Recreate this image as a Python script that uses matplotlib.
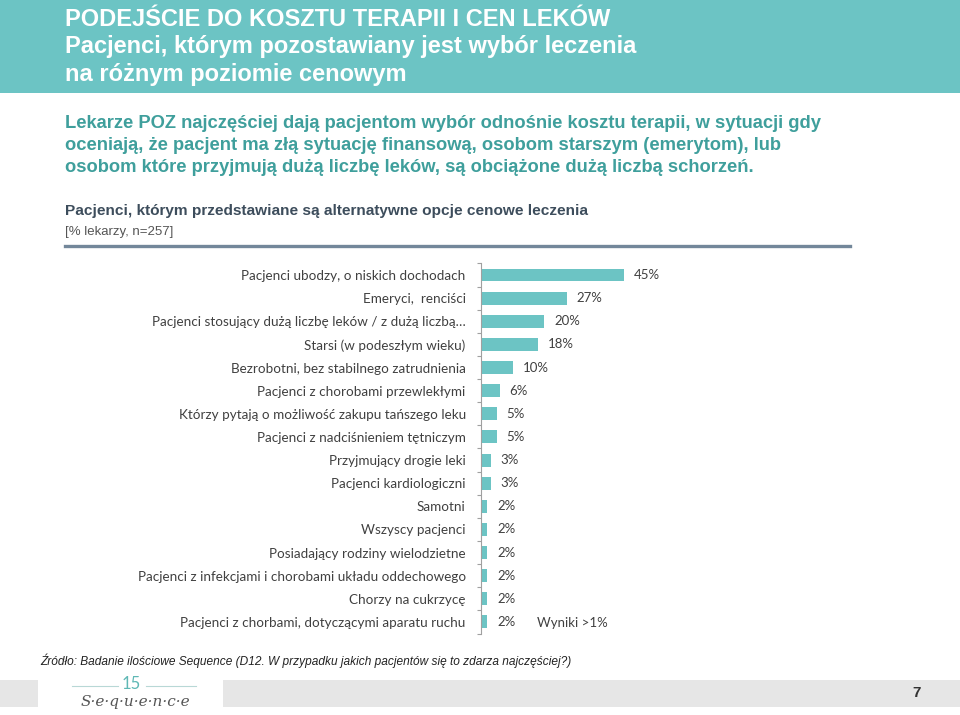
import matplotlib
matplotlib.use("Agg")
import matplotlib.pyplot as plt
from matplotlib.patches import Rectangle
from matplotlib.lines import Line2D
import numpy as np

categories = [
    "Pacjenci ubodzy, o niskich dochodach",
    "Emeryci,  renciści",
    "Pacjenci stosujący dużą liczbę leków / z dużą liczbą…",
    "Starsi (w podeszłym wieku)",
    "Bezrobotni, bez stabilnego zatrudnienia",
    "Pacjenci z chorobami przewlekłymi",
    "Którzy pytają o możliwość zakupu tańszego leku",
    "Pacjenci z nadciśnieniem tętniczym",
    "Przyjmujący drogie leki",
    "Pacjenci kardiologiczni",
    "Samotni",
    "Wszyscy pacjenci",
    "Posiadający rodziny wielodzietne",
    "Pacjenci z infekcjami i chorobami układu oddechowego",
    "Chorzy na cukrzycę",
    "Pacjenci z chorbami, dotyczącymi aparatu ruchu",
]
values = [45, 27, 20, 18, 10, 6, 5, 5, 3, 3, 2, 2, 2, 2, 2, 2]
value_labels = ["45%", "27%", "20%", "18%", "10%", "6%", "5%", "5%",
                "3%", "3%", "2%", "2%", "2%", "2%", "2%", "2%"]

title_lines = ["PODEJŚCIE DO KOSZTU TERAPII I CEN LEKÓW",
               "Pacjenci, którym pozostawiany jest wybór leczenia",
               "na różnym poziomie cenowym"]
lead_lines = ["Lekarze POZ najczęściej dają pacjentom wybór odnośnie kosztu terapii, w sytuacji gdy",
              "oceniają, że pacjent ma złą sytuację finansową, osobom starszym (emerytom), lub",
              "osobom które przyjmują dużą liczbę leków, są obciążone dużą liczbą schorzeń."]
chart_title = "Pacjenci, którym przedstawiane są alternatywne opcje cenowe leczenia"
chart_base = "[% lekarzy, n=257]"
note = "Wyniki >1%"
source = "Źródło: Badanie ilościowe Sequence (D12. W przypadku jakich pacjentów się to zdarza najczęściej?)"
page_no = "7"

TEAL = "#6cc4c4"
W, H = 960, 715

fig = plt.figure(figsize=(9.6, 7.15), dpi=100)
fig.patch.set_facecolor("white")


def fx(px):
    return px / W


def fy(py):
    return 1 - py / H


# header band
fig.patches.append(Rectangle((0, fy(93)), 1, 93 / H, transform=fig.transFigure,
                             facecolor=TEAL, edgecolor="none", zorder=0))
sans = "Liberation Sans"
for i, line in enumerate(title_lines):
    fig.text(fx(65), fy(20 + i * 27), line, color="white", fontsize=17,
             fontweight="bold", family=sans, va="center", ha="left")

for i, line in enumerate(lead_lines):
    fig.text(fx(65), fy(124 + i * 22), line, color="#3f9f9c", fontsize=13.2,
             fontweight="bold", family=sans, va="center", ha="left")

fig.text(fx(65), fy(211), chart_title, color="#3d4d5c", fontsize=11.1,
         fontweight="bold", family=sans, va="center", ha="left")
fig.text(fx(65), fy(232), chart_base, color="#555555", fontsize=9.5,
         family=sans, va="center", ha="left")
fig.lines.append(Line2D([fx(65), fx(850)], [fy(246), fy(246)], transform=fig.transFigure,
                        color="#73879a", linewidth=2.4))

# bar chart
n = len(categories)
slot = 23.13
top_px = 275 - slot / 2
ax = fig.add_axes([fx(481), fy(top_px + n * slot), fx(317), n * slot / H])
y = np.arange(n)
ax.barh(y, values, height=0.56, color=TEAL, zorder=2)
ax.set_xlim(0, 100)
ax.set_ylim(n - 0.5, -0.5)
ax.set_yticks(y)
ax.set_yticklabels(categories, family="Lato", fontsize=9.75, color="#404040")
ax.set_yticks(np.arange(n + 1) - 0.5, minor=True)
ax.tick_params(axis="y", which="major", length=0, pad=11)
ax.tick_params(axis="y", which="minor", length=3, color="#a0a0a0", width=0.8)
ax.set_xticks([])
for s in ["top", "right", "bottom"]:
    ax.spines[s].set_visible(False)
ax.spines["left"].set_color("#a0a0a0")
ax.spines["left"].set_linewidth(0.8)

for yi, v, lab in zip(y, values, value_labels):
    ax.annotate(lab, (v, yi), xytext=(7, 0), textcoords="offset points",
                va="center", ha="left", family="Lato", fontsize=9.5,
                color="#404040")
ax.annotate(note, (values[-1], n - 1), xytext=(36, -1), textcoords="offset points",
            va="center", ha="left", family="Lato", fontsize=9.5,
            color="#404040")

# footer
fig.text(fx(40), fy(661), source, color="#222222", fontsize=8.6, style="italic",
         family=sans, va="center", ha="left")
fig.patches.append(Rectangle((0, fy(707)), 1, 27 / H, transform=fig.transFigure,
                             facecolor="#e6e6e6", edgecolor="none", zorder=0))
fig.patches.append(Rectangle((fx(38), fy(712)), fx(185), 42 / H, transform=fig.transFigure,
                             facecolor="white", edgecolor="none", zorder=1))
# logo
fig.text(fx(131), fy(684), "15", color="#5fb8b5", fontsize=12, family="Lato",
         va="center", ha="center", zorder=3)
for xa, xb in [(72, 118), (146, 196)]:
    fig.lines.append(Line2D([fx(xa), fx(xb)], [fy(686), fy(686)], transform=fig.transFigure,
                            color="#b8d8d6", linewidth=0.8, zorder=3))
fig.text(fx(135), fy(702), "S·e·q·u·e·n·c·e", color="#555555", fontsize=11,
         style="italic", family="DejaVu Serif", va="center", ha="center", zorder=3)
fig.text(fx(917), fy(693), page_no, color="#333333", fontsize=11, fontweight="bold",
         family=sans, va="center", ha="center")

fig.savefig("out.png", dpi=100)
